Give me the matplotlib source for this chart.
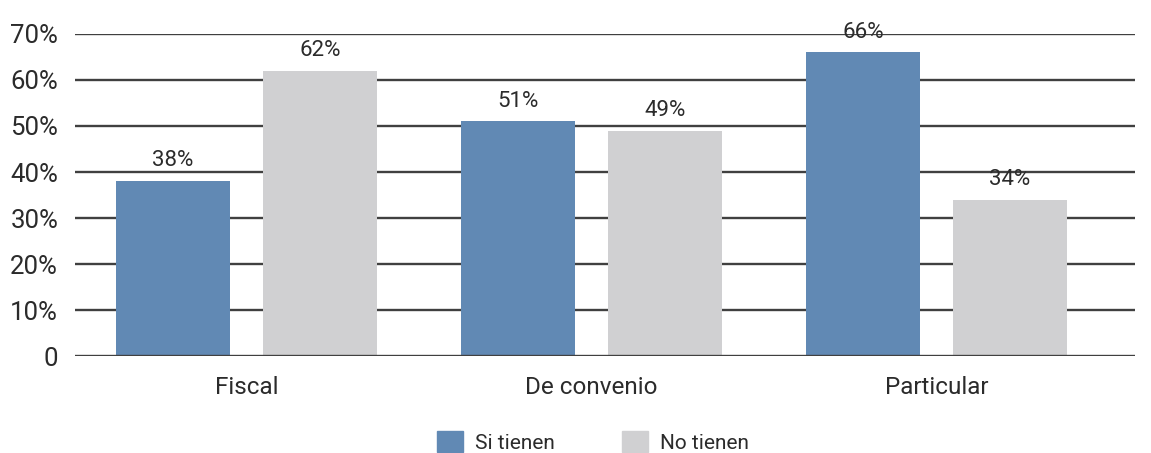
import matplotlib
matplotlib.use("Agg")
import matplotlib.pyplot as plt
import numpy as np
from matplotlib.patches import Patch

plt.rcParams['font.family'] = ['Roboto', 'DejaVu Sans']

categories = ["Fiscal", "De convenio", "Particular"]
si_tienen = [38, 51, 66]
no_tienen = [62, 49, 34]
series_names = ["Si tienen", "No tienen"]
yticks = [0, 10, 20, 30, 40, 50, 60, 70]
ytick_labels = ["0", "10%", "20%", "30%", "40%", "50%", "60%", "70%"]

c_si = "#6189B4"
c_no = "#D0D0D2"
txt = "#2b2b2b"

fig = plt.figure(figsize=(11.51, 4.53), dpi=100)
ax = fig.add_axes([0.065, 0.214, 0.921, 0.711])

x = np.arange(len(categories))
w = 0.33
off = 0.213
b1 = ax.bar(x - off, si_tienen, w, color=c_si, zorder=3)
b2 = ax.bar(x + off, no_tienen, w, color=c_no, zorder=3)

for bars, vals in ((b1, si_tienen), (b2, no_tienen)):
    for r, v in zip(bars, vals):
        ax.annotate(f"{v}%", (r.get_x() + r.get_width() / 2, v),
                    xytext=(0, 7), textcoords="offset points",
                    ha="center", va="bottom", fontsize=16, color=txt)

ax.set_ylim(0, 70)
ax.set_xlim(-0.497, 2.575)
ax.set_yticks(yticks)
ax.set_yticklabels(ytick_labels, fontsize=18.5, color=txt)
ax.set_xticks(x)
ax.set_xticklabels(categories, fontsize=17.5, color=txt)
ax.tick_params(axis='both', length=0)
ax.tick_params(axis='y', pad=12)
ax.tick_params(axis='x', pad=14)
for y in yticks:
    ax.axhline(y, color="#404040", linewidth=1.7, zorder=2 if y > 0 else 4)
for s in ax.spines.values():
    s.set_visible(False)

handles = [Patch(color=c_si), Patch(color=c_no)]
fig.legend(handles, series_names, loc="center", bbox_to_anchor=(0.515, 0.025),
           ncol=2, frameon=False, fontsize=15, handlelength=1.25, handleheight=1.2,
           columnspacing=3.2, handletextpad=0.6, labelcolor=txt)

fig.savefig("out.png", dpi=100)
